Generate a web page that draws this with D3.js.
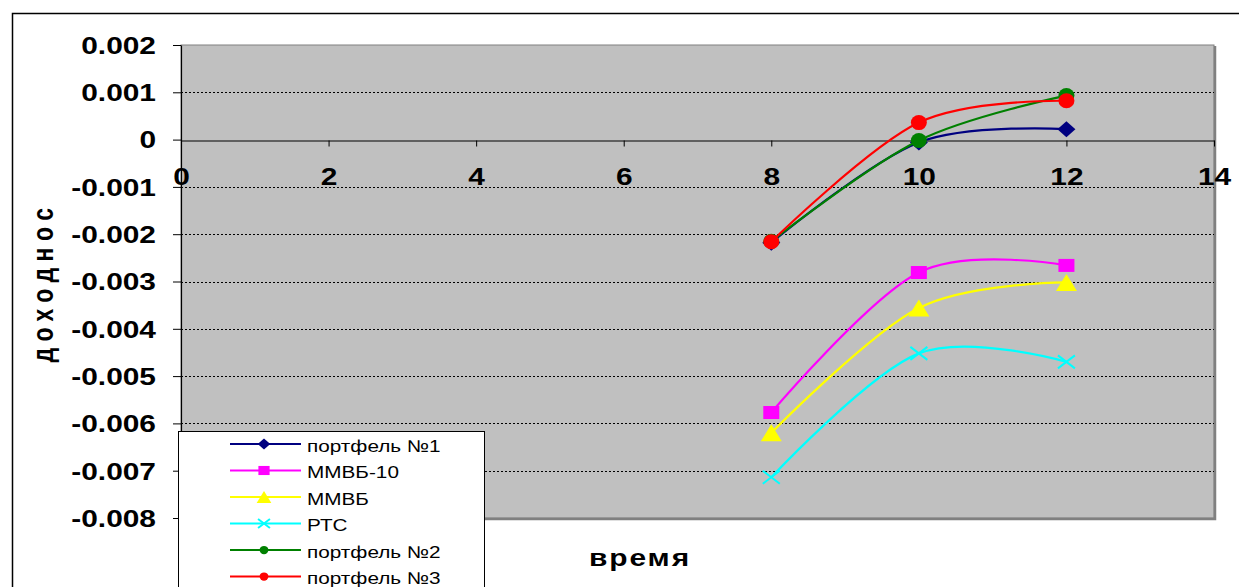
<!DOCTYPE html>
<html>
<head>
<meta charset="utf-8">
<script src="https://cdnjs.cloudflare.com/ajax/libs/d3/7.8.5/d3.min.js"></script>
<style>
  html, body { margin: 0; padding: 0; background: #fff; }
  svg { display: block; }
  text { font-family: "Liberation Sans", Arial, sans-serif; }
</style>
</head>
<body>
<svg id="chart" width="1239" height="587"></svg>
<script>
// Observation times and returns for each portfolio / index
const times = [8, 10, 12];
const portfolio1 = [-0.00218, -0.00006, 0.00022];
const mmvb10 = [-0.00577, -0.00281, -0.00266];
const mmvb = [-0.0062, -0.00356, -0.00302];
const rts = [-0.00714, -0.00452, -0.0047];
const portfolio2 = [-0.00215, -0.00002, 0.00093];
const portfolio3 = [-0.00216, 0.00036, 0.00082];

const seriesNames = ["портфель №1", "ММВБ-10", "ММВБ", "РТС", "портфель №2", "портфель №3"];
const seriesValues = [portfolio1, mmvb10, mmvb, rts, portfolio2, portfolio3];
const seriesColors = ["#000080", "#FF00FF", "#FFFF00", "#00FFFF", "#008000", "#FF0000"];
const seriesMarkers = ["diamond", "square", "triangle", "cross", "circle", "circle"];

const xTicks = [0, 2, 4, 6, 8, 10, 12, 14];
const xTickLabels = ["0", "2", "4", "6", "8", "10", "12", "14"];
const yTicks = [0.002, 0.001, 0, -0.001, -0.002, -0.003, -0.004, -0.005, -0.006, -0.007, -0.008];
const yTickLabels = ["0.002", "0.001", "0", "-0.001", "-0.002", "-0.003", "-0.004", "-0.005", "-0.006", "-0.007", "-0.008"];

const xTitle = "время";
const yTitle = "доходнос";

const STRETCH = 1.3; // horizontal stretch of all lettering

const svg = d3.select("#chart");

const plot = { left: 181, right: 1214, top: 45, bottom: 518 };
const x = d3.scaleLinear().domain([0, 14]).range([plot.left, plot.right]);
const y = d3.scaleLinear().domain([-0.008, 0.002]).range([plot.bottom, plot.top]);

// outer chart frame
svg.append("path")
  .attr("d", "M12.5,600 V13.5 H1260")
  .attr("fill", "none").attr("stroke", "#000").attr("stroke-width", 1.5);

// plot area with its shadow edge
svg.append("rect")
  .attr("x", plot.left).attr("y", plot.top)
  .attr("width", plot.right - plot.left).attr("height", plot.bottom - plot.top)
  .attr("fill", "#C0C0C0").attr("stroke", "#808080").attr("stroke-width", 1);
svg.append("path")
  .attr("d", `M${plot.right + 1},${plot.top + 1} V${plot.bottom + 1} H${plot.left + 1}`)
  .attr("fill", "none").attr("stroke", "#808080").attr("stroke-width", 2.5);

// dotted gridlines
svg.append("g").selectAll("line")
  .data(yTicks.filter(v => v !== 0 && v !== 0.002 && v !== -0.008))
  .join("line")
  .attr("x1", plot.left).attr("x2", plot.right)
  .attr("y1", d => Math.round(y(d)) + 0.5).attr("y2", d => Math.round(y(d)) + 0.5)
  .attr("stroke", "#000").attr("stroke-width", 1).attr("stroke-dasharray", "2,2");

// y axis
const yAxis = svg.append("g")
  .attr("transform", `translate(${plot.left},0)`)
  .call(d3.axisLeft(y).tickValues(yTicks).tickSize(8).tickSizeOuter(0)
    .tickFormat((d, i) => yTickLabels[i]));
yAxis.select(".domain").attr("stroke", "#000").attr("stroke-width", 1.2);
yAxis.selectAll(".tick line").attr("stroke", "#000");
yAxis.selectAll(".tick text")
  .attr("x", 0).attr("dy", null).attr("y", 0)
  .attr("transform", `translate(-25,8.3) scale(${STRETCH},1)`)
  .attr("text-anchor", "end")
  .attr("font-size", 23).attr("font-weight", "bold").attr("fill", "#000")
  .style("font-family", "'Liberation Sans', Arial, sans-serif");

// x axis crossing at zero
const xAxis = svg.append("g")
  .attr("transform", `translate(0,${Math.round(y(0)) + 0.5})`)
  .call(d3.axisBottom(x).tickValues(xTicks).tickSize(6).tickSizeOuter(0)
    .tickFormat((d, i) => xTickLabels[i]));
xAxis.select(".domain").attr("stroke", "#000").attr("stroke-width", 1.2);
xAxis.selectAll(".tick line").attr("stroke", "#000");
xAxis.selectAll(".tick text")
  .attr("x", 0).attr("y", 0).attr("dy", null)
  .attr("transform", `translate(0,44) scale(${STRETCH},1)`)
  .attr("text-anchor", "middle")
  .attr("font-size", 23).attr("font-weight", "bold").attr("fill", "#000")
  .style("font-family", "'Liberation Sans', Arial, sans-serif");

// axis titles
svg.append("text")
  .attr("transform", `translate(640,566) scale(${STRETCH},1)`)
  .attr("text-anchor", "middle")
  .attr("font-size", 23).attr("font-weight", "bold").attr("letter-spacing", 1.5)
  .text(xTitle);
svg.append("text")
  .attr("transform", `translate(53,282) scale(${STRETCH},1) rotate(-90)`)
  .attr("text-anchor", "middle")
  .attr("font-size", 23).attr("font-weight", "bold").attr("letter-spacing", 6.5)
  .text(yTitle);

// marker shapes
function drawMarker(g, type, color, cx, cy, k) {
  if (type === "diamond") {
    const hw = 9 * k, hh = 8 * k;
    g.append("path").attr("d", `M${cx - hw},${cy} L${cx},${cy - hh} L${cx + hw},${cy} L${cx},${cy + hh} Z`)
      .attr("fill", color);
  } else if (type === "square") {
    const hw = 8 * k, hh = 6.5 * k;
    g.append("rect").attr("x", cx - hw).attr("y", cy - hh).attr("width", 2 * hw).attr("height", 2 * hh)
      .attr("fill", color);
  } else if (type === "triangle") {
    const hw = 10.5 * k, hh = 8.5 * k;
    g.append("path").attr("d", `M${cx - hw},${cy + hh} L${cx},${cy - hh} L${cx + hw},${cy + hh} Z`)
      .attr("fill", color);
  } else if (type === "cross") {
    const hw = 8.5 * k, hh = 6.5 * k;
    g.append("path").attr("d", `M${cx - hw},${cy - hh} L${cx + hw},${cy + hh} M${cx - hw},${cy + hh} L${cx + hw},${cy - hh}`)
      .attr("stroke", color).attr("stroke-width", 2).attr("fill", "none");
  } else {
    g.append("ellipse").attr("cx", cx).attr("cy", cy).attr("rx", 8 * k).attr("ry", 7.5 * k)
      .attr("fill", color);
  }
}

// series: smoothed lines with markers
const line = d3.line()
  .x(d => x(d[0]))
  .y(d => y(d[1]))
  .curve(d3.curveCardinal.tension(0));

seriesValues.forEach((vals, si) => {
  const g = svg.append("g");
  const pts = times.map((t, i) => [t, vals[i]]);
  g.append("path").attr("d", line(pts))
    .attr("fill", "none").attr("stroke", seriesColors[si]).attr("stroke-width", 2.2)
    .attr("stroke-linejoin", "round");
  pts.forEach(p => drawMarker(g, seriesMarkers[si], seriesColors[si], x(p[0]), y(p[1]), 1));
});

// legend
const legend = svg.append("g");
legend.append("rect")
  .attr("x", 178.5).attr("y", 431.5).attr("width", 306).attr("height", 200)
  .attr("fill", "#fff").attr("stroke", "#000").attr("stroke-width", 1);
seriesNames.forEach((name, i) => {
  const ry = 444 + i * 26.5;
  legend.append("line").attr("x1", 230).attr("x2", 301).attr("y1", ry).attr("y2", ry)
    .attr("stroke", seriesColors[i]).attr("stroke-width", 2.2);
  const k = seriesMarkers[i] === "circle" ? 0.55 : 0.7;
  drawMarker(legend, seriesMarkers[i], seriesColors[i], 264, ry, k);
  legend.append("text")
    .attr("transform", `translate(307,${ry + 7.5}) scale(1.22,1)`)
    .attr("font-size", 17).attr("fill", "#000")
    .text(name);
});
</script>
</body>
</html>
